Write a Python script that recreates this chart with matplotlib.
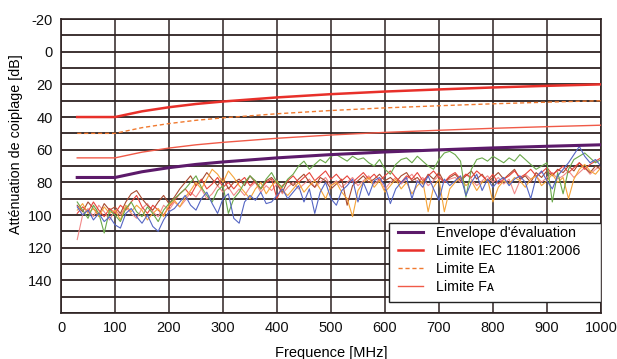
import matplotlib
matplotlib.use("Agg")
import matplotlib.pyplot as plt
from matplotlib.patches import Rectangle

plt.rcParams['font.family'] = ['Liberation Sans', 'DejaVu Sans']
plt.rcParams['axes.unicode_minus'] = False

# Limit curves (frequency in MHz, attenuation in dB)
limit_freq = [30, 100, 150, 200, 250, 300, 400, 500, 600, 700, 800, 900, 1000]
iec_limit = [40, 40, 36.5, 34, 32, 30.5, 28, 26, 24.4, 23.1, 21.9, 20.9, 20]
ea_limit = [50, 50, 46.5, 44, 42, 40.5, 38, 36, 34.4, 33.1, 31.9, 30.9, 30]
fa_limit = [65, 65, 61.5, 59, 57, 55.5, 53, 51, 49.4, 48.1, 46.9, 45.9, 45]
envelope = [77, 77, 73.5, 71, 69, 67.5, 65, 63, 61.4, 60.1, 58.9, 57.9, 57]

# Measured traces, sampled every 10 MHz from 30 to 1000 MHz
meas_freq = list(range(30, 1001, 10))
trace_blue = [95, 100, 97, 103, 99, 104, 101, 106, 108, 99,
              96, 101, 105, 100, 107, 110, 103, 98, 96, 92,
              88, 94, 97, 90, 86, 93, 99, 90, 87, 102,
              105, 92, 88, 91, 86, 93, 92, 88, 84, 90,
              86, 82, 92, 84, 99, 86, 80, 90, 94, 85,
              82, 78, 92, 80, 88, 79, 77, 82, 93, 84,
              80, 77, 90, 79, 83, 76, 84, 91, 78, 82,
              79, 76, 88, 80, 75, 85, 78, 83, 79, 77,
              82, 78, 76, 80, 90, 77, 73, 79, 84, 76,
              72, 68, 63, 58, 64, 68, 66, 70]
trace_green = [92, 97, 102, 94, 99, 111, 97, 100, 104, 96,
               92, 98, 101, 95, 99, 104, 97, 93, 90, 87,
               84, 80, 76, 83, 88, 92, 85, 82, 99, 90,
               86, 80, 76, 79, 84, 78, 74, 80, 83, 78,
               75, 70, 67, 72, 69, 66, 68, 64, 63, 65,
               67, 64, 66, 65, 68, 70, 66, 72, 75, 69,
               66, 65, 68, 64, 67, 70, 72, 66, 62, 61,
               63, 67, 89, 72, 66, 65, 67, 64, 66, 68,
               65, 67, 63, 66, 69, 72, 70, 68, 92, 74,
               87, 72, 66, 64, 62, 65, 68, 66]
trace_orange = [97, 93, 99, 96, 101, 95, 99, 97, 103, 94,
                98, 94, 97, 103, 99, 96, 101, 94, 91, 95,
                89, 85, 80, 84, 78, 72, 75, 80, 73, 77,
                82, 86, 90, 84, 80, 87, 82, 79, 85, 88,
                84, 80, 86, 82, 79, 84, 90, 82, 80, 86,
                90, 101, 85, 80, 77, 83, 79, 86, 82, 78,
                84, 80, 87, 82, 79, 98, 83, 78, 98, 84,
                80, 77, 82, 79, 85, 80, 78, 92, 83, 79,
                81, 77, 79, 83, 78, 76, 82, 79, 75, 80,
                77, 90, 78, 72, 69, 73, 75, 71]
trace_red = [99, 95, 98, 92, 97, 101, 96, 99, 94, 97,
             92, 88, 95, 99, 94, 97, 100, 95, 91, 87,
             84, 88, 82, 78, 84, 81, 77, 83, 80, 84,
             80, 77, 82, 79, 84, 80, 78, 90, 82, 79,
             76, 80, 77, 74, 79, 76, 73, 78, 75, 79,
             76, 80, 77, 74, 78, 75, 79, 76, 73, 77,
             80, 76, 78, 74, 79, 76, 73, 77, 80, 76,
             74, 78, 75, 77, 73, 76, 79, 75, 81, 78,
             76, 73, 77, 75, 72, 76, 74, 71, 75, 73,
             70, 74, 71, 68, 72, 69, 67, 65]
trace_brown = [94, 98, 92, 96, 100, 93, 97, 95, 99, 92,
               87, 85, 90, 94, 97, 92, 88, 93, 89, 84,
               80, 76, 82, 79, 74, 78, 82, 77, 84, 80,
               78, 82, 76, 80, 84, 79, 77, 81, 86, 79,
               82, 78, 75, 80, 83, 77, 79, 84, 81, 78,
               94, 82, 79, 76, 80, 78, 75, 79, 77, 80,
               76, 74, 79, 77, 81, 75, 78, 74, 80, 77,
               75, 79, 76, 73, 78, 75, 80, 77, 74, 78,
               75, 72, 78, 76, 80, 74, 77, 73, 76, 72,
               74, 70, 73, 68, 71, 74, 70, 72]
trace_pink = [115, 100, 96, 101, 94, 98, 103, 97, 100, 95,
              99, 102, 96, 93, 98, 101, 94, 97, 92, 95,
              91, 86, 89, 84, 90, 87, 82, 86, 83, 88,
              84, 88, 83, 80, 86, 82, 85, 81, 87, 83,
              80, 84, 81, 78, 83, 80, 77, 82, 79, 83,
              80, 77, 82, 79, 76, 81, 78, 84, 80, 77,
              81, 78, 75, 80, 77, 82, 79, 76, 80, 78,
              77, 80, 75, 78, 82, 79, 76, 80, 77, 81,
              78, 87, 79, 75, 78, 76, 80, 77, 74, 78,
              76, 73, 77, 74, 71, 75, 72, 70]

x_ticks = [0, 100, 200, 300, 400, 500, 600, 700, 800, 900, 1000]
y_ticks = [-20, 0, 20, 40, 60, 80, 100, 120, 140]

fig = plt.figure(figsize=(6.17, 3.59), dpi=100)
ax = fig.add_axes([0.0989, 0.128, 0.875, 0.819])

grid_c = '#2e2222'
for v in range(-20, 161, 10):
    ax.axhline(v, color=grid_c, lw=1.3, zorder=1)
for v in x_ticks:
    ax.axvline(v, color=grid_c, lw=1.1, zorder=1)

traces = [(trace_pink, '#f28a8a'), (trace_brown, '#a84a30'), (trace_red, '#e8453c'),
          (trace_orange, '#f5a43a'), (trace_green, '#6aa84a'), (trace_blue, '#5566c4')]
for tr, c in traces:
    ax.plot(meas_freq, tr, color=c, lw=0.8, zorder=2)

ax.plot(limit_freq, envelope, color='#5c1a6a', lw=2.2, zorder=3, label="Envelope d'évaluation")
ax.plot(limit_freq, iec_limit, color='#e8302a', lw=1.8, zorder=3, label='Limite IEC 11801:2006')
ax.plot(limit_freq, ea_limit, color='#f07a30', lw=1.0, ls=(0, (3, 2)), zorder=3, label='Limite Eᴀ')
ax.plot(limit_freq, fa_limit, color='#f05a48', lw=1.0, zorder=3, label='Limite Fᴀ')

ax.set_xlim(0, 1000)
ax.set_ylim(160, -20)
ax.set_xticks(x_ticks)
ax.set_yticks(y_ticks)
ax.tick_params(length=0, labelsize=10.5, pad=6, colors='#111111')
for s in ax.spines.values():
    s.set_color(grid_c)
    s.set_linewidth(1.2)

ax.set_xlabel('Frequence [MHz]', fontsize=10.5, labelpad=8)
ax.set_ylabel('Atténuation de coiplage [dB]', fontsize=10.3)
ax.yaxis.set_label_coords(-0.070, 0.575)

# legend frame drawn as a box, legend content placed inside
box = Rectangle((0.607, 0.037), 0.393, 0.269, transform=ax.transAxes,
                facecolor='white', edgecolor='#222222', lw=1.0, zorder=4)
ax.add_patch(box)
leg = ax.legend(loc='upper left', bbox_to_anchor=(0.625, 0.297), borderaxespad=0,
                frameon=False, fontsize=10.3, handlelength=1.7, labelspacing=0.28,
                borderpad=0, handletextpad=0.95)
leg.set_zorder(5)

fig.savefig('out.png', dpi=100)
